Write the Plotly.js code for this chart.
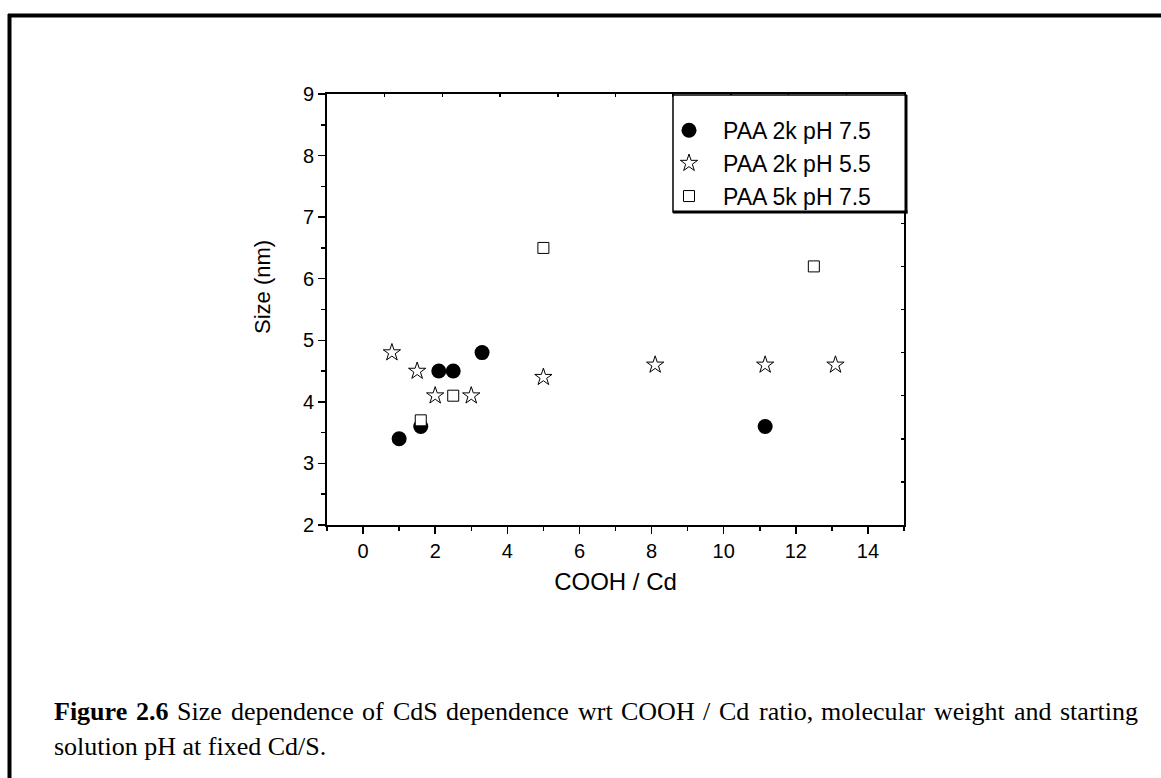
<!DOCTYPE html>
<html>
<head>
<meta charset="utf-8">
<script src="https://cdn.plot.ly/plotly-3.0.1.min.js"></script>
<style>
  html, body { margin: 0; padding: 0; background: #ffffff; }
  #chart { width: 1161px; height: 778px; }
</style>
</head>
<body>
<div id="chart"></div>
<script>
// ---- data ----
const seriesNames = ["PAA 2k pH 7.5", "PAA 2k pH 5.5", "PAA 5k pH 7.5"];
const paa2k75_x = [1.0, 1.6, 2.1, 2.5, 3.3, 11.15];
const paa2k75_y = [3.4, 3.6, 4.5, 4.5, 4.8, 3.6];
const paa2k55_x = [0.8, 1.5, 2.0, 3.0, 5.0, 8.1, 11.15, 13.1];
const paa2k55_y = [4.8, 4.5, 4.1, 4.1, 4.4, 4.6, 4.6, 4.6];
const paa5k75_x = [1.6, 2.5, 5.0, 12.5];
const paa5k75_y = [3.7, 4.1, 6.5, 6.2];
const xTitle = "COOH / Cd";
const yTitle = "Size (nm)";
const captionLine1 = [
  {t: "Figure", b: true}, {t: "2.6", b: true},
  "Size", "dependence", "of", "CdS", "dependence", "wrt", "COOH", "/", "Cd",
  "ratio,", "molecular", "weight", "and", "starting"
];
const captionLine2 = "solution pH at fixed Cd/S.";

// ---- geometry ----
const W = 1161, H = 778;
const L = 327, R = 904, T = 94, B = 525;
const px = x => (x - L) / (R - L);
const py = y => (B - y) / (B - T);

const sansFamily = "Liberation Sans, Arial, sans-serif";
const axFont = {family: sansFamily, size: 20, color: "#000"};
const capFamily = "Liberation Serif, Times New Roman, serif";
const capSize = 26;

const traces = [
  {
    x: paa2k75_x, y: paa2k75_y, name: seriesNames[0], type: "scatter", mode: "markers",
    marker: {symbol: "circle", size: 15, color: "#000", line: {width: 0}}
  },
  {
    x: paa2k55_x, y: paa2k55_y, name: seriesNames[1], type: "scatter", mode: "markers",
    marker: {symbol: "star", size: 13, color: "#fff", line: {width: 1, color: "#000"}}
  },
  {
    x: paa5k75_x, y: paa5k75_y, name: seriesNames[2], type: "scatter", mode: "markers",
    marker: {symbol: "square", size: 11, color: "#fff", line: {width: 1, color: "#000"}}
  },
  {
    x: [null], y: [null], xaxis: "x2", yaxis: "y2", type: "scatter", mode: "markers",
    showlegend: false, hoverinfo: "skip"
  }
];

// caption as word annotations, justified on line 1
const canvas = document.createElement("canvas");
const ctx = canvas.getContext("2d");
function measure(text, bold) {
  ctx.font = (bold ? "bold " : "") + capSize + "px " + capFamily;
  return ctx.measureText(text).width;
}
const capLeft = 52, capRight = 1136;
const line1Y = 711, line2Y = 746;
const annotations = [];
const words = captionLine1.map(w => typeof w === "string" ? {t: w, b: false} : w);
const widths = words.map(w => measure(w.t, w.b));
const total = widths.reduce((a, b) => a + b, 0);
const gap = (capRight - capLeft - total) / (words.length - 1);
let cx = capLeft;
words.forEach((w, i) => {
  annotations.push({
    xref: "paper", yref: "paper", x: px(cx), y: py(line1Y),
    xanchor: "left", yanchor: "middle", showarrow: false,
    text: w.b ? "<b>" + w.t + "</b>" : w.t,
    font: {family: capFamily, size: capSize, color: "#000"}
  });
  cx += widths[i] + gap;
});
annotations.push({
  xref: "paper", yref: "paper", x: px(capLeft), y: py(line2Y),
  xanchor: "left", yanchor: "middle", showarrow: false,
  text: captionLine2,
  font: {family: capFamily, size: capSize, color: "#000"}
});
// y-axis title (placed like the reference, slightly above centre)
annotations.push({
  xref: "paper", yref: "paper", x: px(262), y: py(287),
  xanchor: "center", yanchor: "middle", showarrow: false, textangle: -90,
  text: yTitle, font: {family: sansFamily, size: 22, color: "#000"}
});

// legend frame (box with a heavier right/bottom edge, as in the reference)
const lgL = 673, lgR = 906, lgT = 95, lgB = 212;

const layout = {
  width: W, height: H,
  margin: {l: L, r: W - R, t: T, b: H - B, pad: 0},
  paper_bgcolor: "#fff", plot_bgcolor: "#fff",
  showlegend: true,
  xaxis: {
    range: [-1, 15], tick0: 0, dtick: 2, ticks: "outside", ticklen: 7, tickwidth: 1.5,
    tickcolor: "#000", showline: true, linewidth: 2, linecolor: "#000", mirror: true,
    showgrid: false, zeroline: false, tickfont: axFont,
    minor: {dtick: 1, tick0: 0, ticks: "outside", ticklen: 4, tickwidth: 1.5, tickcolor: "#000", showgrid: false},
    title: {text: xTitle, font: {family: sansFamily, size: 24, color: "#000"}, standoff: 12}
  },
  yaxis: {
    range: [2, 9], tick0: 2, dtick: 1, ticks: "outside", ticklen: 7, tickwidth: 1.5,
    tickcolor: "#000", showline: true, linewidth: 2, linecolor: "#000", mirror: true,
    showgrid: false, zeroline: false, tickfont: axFont,
    minor: {dtick: 0.5, tick0: 2, ticks: "outside", ticklen: 4, tickwidth: 1.5, tickcolor: "#000", showgrid: false}
  },
  xaxis2: {
    overlaying: "x", side: "top", anchor: "y", range: [0, 10], dtick: 1, tick0: 0,
    ticks: "inside", ticklen: 3, tickwidth: 1.5, tickcolor: "#000",
    showticklabels: false, showline: false, showgrid: false, zeroline: false
  },
  yaxis2: {
    overlaying: "y", side: "right", anchor: "x", range: [0, 10], dtick: 1, tick0: 0,
    ticks: "inside", ticklen: 3, tickwidth: 1.5, tickcolor: "#000",
    showticklabels: false, showline: false, showgrid: false, zeroline: false
  },
  legend: {
    x: px(655), xanchor: "left", y: py(101), yanchor: "top",
    bgcolor: "rgba(0,0,0,0)", bordercolor: "rgba(0,0,0,0)", borderwidth: 0,
    font: {family: sansFamily, size: 23, color: "#000"},
    title: {text: " ", font: {size: 6}},
    tracegroupgap: 0, itemwidth: 58
  },
  shapes: [
    {type: "line", xref: "paper", yref: "paper", x0: px(8), x1: px(1161), y0: py(15.5), y1: py(15.5),
     line: {color: "#000", width: 4}},
    {type: "line", xref: "paper", yref: "paper", x0: px(9.5), x1: px(9.5), y0: py(14), y1: py(778),
     line: {color: "#000", width: 4}},
    {type: "rect", xref: "paper", yref: "paper", layer: "above",
     x0: px(lgL), x1: px(lgR), y0: py(lgB), y1: py(lgT),
     fillcolor: "#fff", line: {color: "#000", width: 1.5}},
    {type: "line", xref: "paper", yref: "paper", layer: "above",
     x0: px(lgR), x1: px(lgR), y0: py(lgB + 1.5), y1: py(lgT),
     line: {color: "#000", width: 3}},
    {type: "line", xref: "paper", yref: "paper", layer: "above",
     x0: px(lgL), x1: px(lgR + 1.5), y0: py(lgB), y1: py(lgB),
     line: {color: "#000", width: 3}}
  ],
  annotations: annotations
};

Plotly.newPlot("chart", traces, layout, {displayModeBar: false, staticPlot: true});
</script>
</body>
</html>
